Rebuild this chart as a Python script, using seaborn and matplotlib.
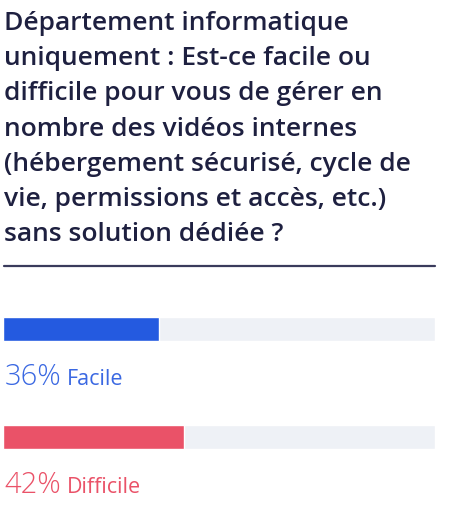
import matplotlib
matplotlib.use("Agg")
import matplotlib.pyplot as plt
import seaborn as sns
import pandas as pd

# -------------------------
# Data
# -------------------------
title_lines = [
    "Département informatique",
    "uniquement : Est-ce facile ou",
    "difficile pour vous de gérer en",
    "nombre des vidéos internes",
    "(hébergement sécurisé, cycle de",
    "vie, permissions et accès, etc.)",
    "sans solution dédiée ?",
]
categories = ["Facile", "Difficile"]
values = [36, 42]
totals = [100, 100]
bar_colors = ["#245ae0", "#ea5268"]
text_colors = ["#3a68e2", "#ea5268"]

# -------------------------
# Configuration
# -------------------------
sns.set_theme(style="white")
plt.rcParams["font.family"] = ["Open Sans", "DejaVu Sans"]

W, H = 460, 524
fig = plt.figure(figsize=(W / 100, H / 100), dpi=100)

# Title lines (baselines in pixels from the top)
for i, line in enumerate(title_lines):
    fig.text(4 / W, 1 - (30 + 35.2 * i) / H, line, fontsize=19,
             fontweight="semibold", color="#1e2040", va="baseline", ha="left")

# Divider
fig.add_artist(plt.Line2D([4 / W, 435 / W], [1 - 266 / H] * 2,
                          color="#3a3b5c", linewidth=1.6))

# Bars axes: category 0 at y=329px, category 1 at y=437px
left, right = 3, 435
top, bottom = 329 - 54, 437 + 54
ax = fig.add_axes([left / W, 1 - bottom / H, (right - left) / W, (bottom - top) / H])

df = pd.DataFrame({"cat": categories, "value": values, "total": totals})

sns.barplot(data=df, x="total", y="cat", color="#eef1f6", width=24 / 108,
            ax=ax, orient="h", saturation=1)
sns.barplot(data=df, x="value", y="cat", hue="cat", palette=bar_colors,
            width=24 / 108, ax=ax, orient="h", saturation=1, legend=False)

ax.set_xlim(0, 100)
ax.set_ylim(1.5, -0.5)
ax.axis("off")

# Labels below bars
fig.canvas.draw()
renderer = fig.canvas.get_renderer()
for i, (cat, val) in enumerate(zip(categories, values)):
    y = i + (385 - 329) / 108
    t = ax.text(0.3, y, "%d%%" % val, fontsize=21, fontweight="light",
                color=text_colors[i], va="baseline", ha="left")
    bb = t.get_window_extent(renderer)
    x2 = ax.transData.inverted().transform((bb.x1 + 6, 0))[0]
    ax.text(x2, y, cat, fontsize=15.5, color=text_colors[i],
            va="baseline", ha="left")

fig.savefig("out.png", dpi=100)
